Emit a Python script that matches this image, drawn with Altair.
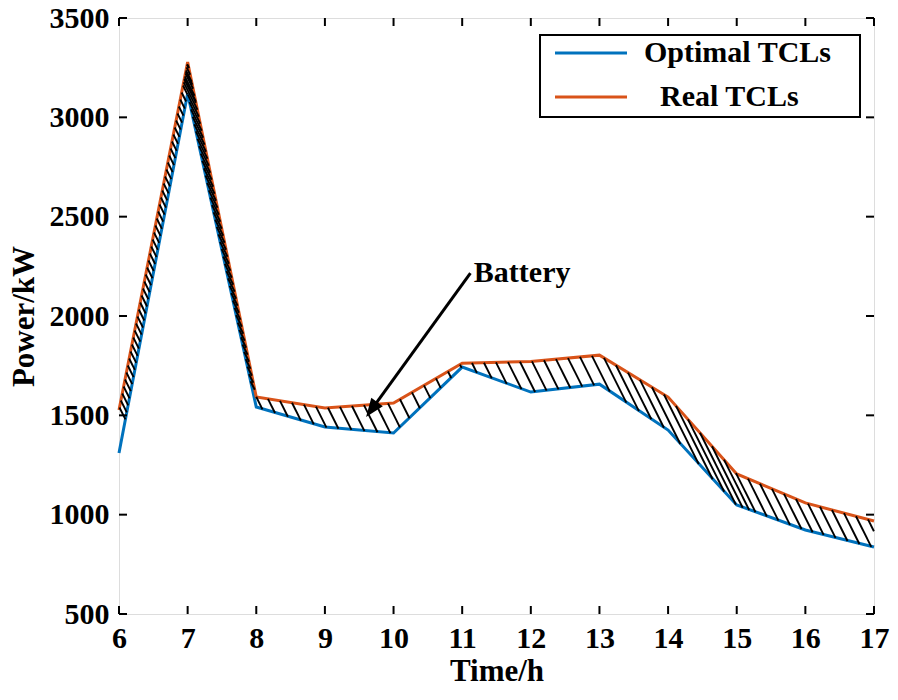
import math
import numpy as np
import pandas as pd
import altair as alt

# ---------------- data ----------------
hours = [6, 7, 8, 9, 10, 11, 12, 13, 14, 15, 16, 17]
optimal_tcl = [1310, 3120, 1542, 1441, 1411, 1743, 1617, 1657, 1426, 1049, 923, 837]
real_tcl = [1527, 3278, 1592, 1537, 1562, 1762, 1771, 1803, 1592, 1205, 1059, 968]
series_names = ["Optimal TCLs", "Real TCLs"]
series_colors = ["#0072BD", "#D95319"]
x_ticks = [6, 7, 8, 9, 10, 11, 12, 13, 14, 15, 16, 17]
y_ticks = [500, 1000, 1500, 2000, 2500, 3000, 3500]
annotation_text = ["Battery"]
arrow_tail = [11.12, 2216]
arrow_tip = [9.60, 1491]
annotation_pos = [11.17, 2171]

# ---------------- geometry helpers ----------------
W, H = 755, 596
X0, X1 = 6, 17
Y0, Y1 = 500, 3500
FONT = "Liberation Serif"


def px(x):
    return (x - X0) / (X1 - X0) * W


def py(y):
    return H - (y - Y0) / (Y1 - Y0) * H


def dx(p):
    return X0 + p / W * (X1 - X0)


def dy(p):
    return Y0 + (H - p) / H * (Y1 - Y0)


xs_scale = alt.Scale(domain=[X0, X1], nice=False, zero=False)
ys_scale = alt.Scale(domain=[Y0, Y1], nice=False, zero=False)

# ---------------- hatch between the curves ----------------
hx = np.array([px(v) for v in hours])
top_px = np.array([py(v) for v in real_tcl])
bot_px = np.array([py(v) for v in optimal_tcl])
slope = 2.0
x_gap = 12.0      # hatch spacing along x in gentle parts
y_gap = 7.0       # hatch spacing along y in steep parts


def top_at(x):
    return float(np.interp(x, hx, top_px))


def bot_at(x):
    return float(np.interp(x, hx, bot_px))


def inside(x, y, tol=0.6):
    if x < 0 or x > W:
        return False
    return top_at(x) - tol <= y <= bot_at(x) + tol


fine_x = np.arange(0, W + 0.001, 0.25)
fine_y = np.interp(fine_x, hx, top_px)
ddx = np.diff(fine_x)
ddy = np.abs(np.diff(fine_y))
steep = ddy > 3 * ddx
seg = np.where(steep, ddy / y_gap, ddx / x_gap)
cum = np.concatenate([[0], np.cumsum(seg)])
targets = np.arange(0.35, cum[-1], 1.0)
anchor_x = np.interp(targets, cum, fine_x)

ux0 = 1 / math.hypot(1, slope)
uy0 = slope / math.hypot(1, slope)
segs = []
for ax in anchor_x:
    ay = top_at(ax)
    best = None
    for sgn in (1, -1):
        t = 0.0
        last = 0.0
        while t < 250:
            t += 0.25
            qx, qy = ax + sgn * ux0 * t, ay + sgn * uy0 * t
            if inside(qx, qy):
                last = t
            elif t > 1.0:
                break
        if best is None or last > best[1]:
            best = (sgn, last)
    sgn, L = best
    if L > 2.0:
        bx, by = ax + sgn * ux0 * L, ay + sgn * uy0 * L
        segs.append({"x": dx(ax), "y": dy(ay), "x2": dx(bx), "y2": dy(by)})
hatch_df = pd.DataFrame(segs)

# ---------------- layers ----------------
df_opt = pd.DataFrame({"hour": hours, "power": optimal_tcl})
df_real = pd.DataFrame({"hour": hours, "power": real_tcl})

x_axis = alt.Axis(
    values=x_ticks, format="d", labelFont=FONT, labelFontSize=30, labelFontWeight="bold",
    labelColor="black", ticks=False, domain=False, grid=False, labelPadding=9,
    labelFlush=False, labelOverlap=False, title="Time/h", titleFont=FONT,
    titleFontSize=31, titleFontWeight="bold", titleColor="black", titlePadding=3,
)
y_axis = alt.Axis(
    values=y_ticks, format="d", labelFont=FONT, labelFontSize=30, labelFontWeight="bold",
    labelColor="black", ticks=False, domain=False, grid=False, labelPadding=10,
    labelFlush=False, labelOverlap=False, title="Power/kW", titleFont=FONT,
    titleFontSize=31, titleFontWeight="bold", titleColor="black", titlePadding=9,
)

line_opt = alt.Chart(df_opt).mark_line(color=series_colors[0], strokeWidth=3).encode(
    x=alt.X("hour:Q", scale=xs_scale, axis=x_axis),
    y=alt.Y("power:Q", scale=ys_scale, axis=y_axis),
)
line_real = alt.Chart(df_real).mark_line(color=series_colors[1], strokeWidth=3).encode(
    x=alt.X("hour:Q", scale=xs_scale),
    y=alt.Y("power:Q", scale=ys_scale),
)
hatch = alt.Chart(hatch_df).mark_rule(color="black", strokeWidth=1.9).encode(
    x=alt.X("x:Q", scale=xs_scale), y=alt.Y("y:Q", scale=ys_scale),
    x2="x2:Q", y2="y2:Q",
)

# inward ticks on all four sides
xt_df = pd.DataFrame({"t": x_ticks})
yt_df = pd.DataFrame({"t": y_ticks})
TL = 8
tick_bottom = alt.Chart(xt_df).mark_rule(color="black", strokeWidth=2).encode(
    x=alt.X("t:Q", scale=xs_scale), y=alt.value(H), y2=alt.value(H - TL))
tick_top = alt.Chart(xt_df).mark_rule(color="black", strokeWidth=2).encode(
    x=alt.X("t:Q", scale=xs_scale), y=alt.value(0), y2=alt.value(TL))
tick_left = alt.Chart(yt_df).mark_rule(color="black", strokeWidth=2).encode(
    y=alt.Y("t:Q", scale=ys_scale), x=alt.value(0), x2=alt.value(TL))
tick_right = alt.Chart(yt_df).mark_rule(color="black", strokeWidth=2).encode(
    y=alt.Y("t:Q", scale=ys_scale), x=alt.value(W), x2=alt.value(W - TL))

# arrow annotation
tx, ty = px(arrow_tail[0]), py(arrow_tail[1])
hx_, hy_ = px(arrow_tip[0]), py(arrow_tip[1])
L = math.hypot(tx - hx_, ty - hy_)
ux, uy = (tx - hx_) / L, (ty - hy_) / L
shaft_end = [dx(hx_ + ux * 12), dy(hy_ + uy * 12)]
arrow_df = pd.DataFrame({"x": [arrow_tail[0]], "y": [arrow_tail[1]],
                         "x2": [shaft_end[0]], "y2": [shaft_end[1]]})
arrow_shaft = alt.Chart(arrow_df).mark_rule(color="black", strokeWidth=3).encode(
    x=alt.X("x:Q", scale=xs_scale), y=alt.Y("y:Q", scale=ys_scale), x2="x2:Q", y2="y2:Q")
ang = (math.degrees(math.atan2(ux, -uy)) + 180) % 360
head_df = pd.DataFrame({"x": [arrow_tip[0]], "y": [arrow_tip[1]]})
arrow_head = alt.Chart(head_df).mark_point(
    shape="M0,0L-0.38,1L0.38,1Z", filled=True, color="black", opacity=1,
    size=1400, angle=ang, strokeWidth=0,
).encode(x=alt.X("x:Q", scale=xs_scale), y=alt.Y("y:Q", scale=ys_scale))

text_df = pd.DataFrame({"x": [annotation_pos[0]], "y": [annotation_pos[1]], "t": annotation_text})
annot = alt.Chart(text_df).mark_text(
    font=FONT, fontSize=30, fontWeight="bold", color="black", align="left", baseline="alphabetic",
).encode(x=alt.X("x:Q", scale=xs_scale), y=alt.Y("y:Q", scale=ys_scale), text="t:N")

# legend
one = pd.DataFrame({"a": [0]})
leg_box = alt.Chart(one).mark_rect(fill="white", stroke="black", strokeWidth=2).encode(
    x=alt.value(421), x2=alt.value(741), y=alt.value(17), y2=alt.value(99))
leg_layers = [leg_box]
leg_rows = [(35, 44, 525), (79, 88, 541)]
for i, (ly, tyb, txp) in enumerate(leg_rows):
    leg_layers.append(alt.Chart(one).mark_rule(color=series_colors[i], strokeWidth=3).encode(
        x=alt.value(436), x2=alt.value(508), y=alt.value(ly)))
    leg_layers.append(alt.Chart(pd.DataFrame({"t": [series_names[i]]})).mark_text(
        font=FONT, fontSize=30, fontWeight="bold", color="black", align="left",
        baseline="alphabetic").encode(x=alt.value(txp), y=alt.value(tyb), text="t:N"))

chart = alt.layer(
    line_opt, line_real, hatch, tick_bottom, tick_top, tick_left, tick_right,
    arrow_shaft, arrow_head, annot, *leg_layers,
).properties(
    width=W, height=H,
    autosize=alt.AutoSizeParams(type="none"),
    padding={"left": 111, "top": 10, "right": 16, "bottom": 73},
).configure_view(stroke="black", strokeWidth=2).configure(background="white")

chart.save("out.html", embed_options={"renderer": "svg", "actions": False})
